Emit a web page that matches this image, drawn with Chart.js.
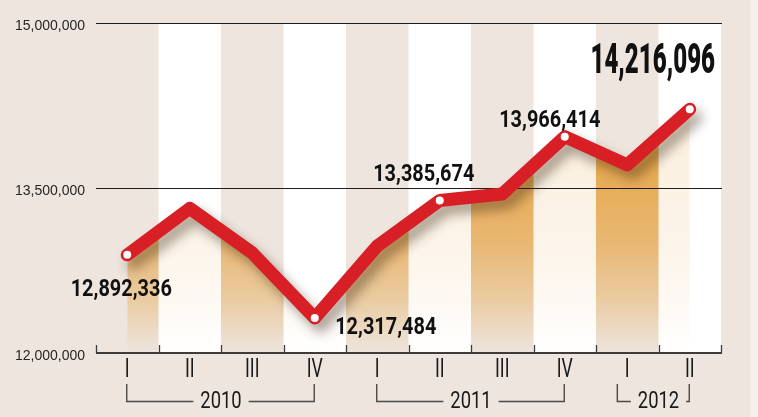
<!DOCTYPE html>
<html>
<head>
<meta charset="utf-8">
<script src="https://cdn.jsdelivr.net/npm/chart.js@4.4.1/dist/chart.umd.min.js"></script>
<style>
  html, body { margin: 0; padding: 0; background: #ede5de; }
  #wrap { width: 758px; height: 417px; }
</style>
</head>
<body>
<div id="wrap"><canvas id="c" width="758" height="417"></canvas></div>
<script>
// ---- data ----
const categories = ['I', 'II', 'III', 'IV', 'I', 'II', 'III', 'IV', 'I', 'II'];
const values = [12892336, 13315000, 12910000, 12317484, 12973000, 13385674, 13445000, 13966414, 13710000, 14216096];
const years = ['2010', '2011', '2012'];
const yearFirstIndex = [0, 4, 8];
const yearLastIndex = [3, 7, 9];
const labelledPoints = [0, 3, 5, 7, 9];
const yTickValues = [12000000, 13500000, 15000000];

// ---- styles ----
const BG = '#ede5de';
const RED = '#d81f26';
const INK = '#111111';
const ORANGE = [231, 166, 74];
const labelPlacement = { 0: [-6, 33], 3: [71, 7], 5: [-16, -28], 7: [-15, -18], 9: [-37, -51] };
const fmt = v => v.toLocaleString('en-US');

function drawText(ctx, text, cx, cy, size, weight, family, sx, color) {
  ctx.save();
  ctx.font = weight + ' ' + size + 'px ' + family;
  ctx.fillStyle = color;
  ctx.textAlign = 'center';
  ctx.textBaseline = 'alphabetic';
  ctx.translate(cx, cy + size * 0.355);
  ctx.scale(sx, 1);
  ctx.fillText(text, 0, 0);
  const w = ctx.measureText(text).width * sx;
  ctx.restore();
  return w;
}

let patternCache = null;
function fillPattern(chart) {
  const area = chart.chartArea;
  if (!area) return 'rgba(231,166,74,0.5)';
  const key = area.left + ',' + area.top + ',' + area.right + ',' + area.bottom;
  if (patternCache && patternCache.key === key) return patternCache.pattern;
  const x = chart.scales.x, y = chart.scales.y;
  const off = document.createElement('canvas');
  off.width = chart.width; off.height = chart.height;
  const g = off.getContext('2d');
  const half = (x.getPixelForValue(1) - x.getPixelForValue(0)) / 2;
  const top = area.top, bot = area.bottom, h = bot - top;
  const stops = [[13700000, 0.95], [13000000, 0.72], [12500000, 0.42], [12000000, 0.0]];
  for (let i = 0; i < categories.length; i++) {
    const k = (i % 2 === 0) ? 1 : 0.17;
    const grad = g.createLinearGradient(0, top, 0, bot);
    grad.addColorStop(0, 'rgba(' + ORANGE.join(',') + ',' + (0.95 * k) + ')');
    stops.forEach(([v, a]) => {
      const f = Math.min(1, Math.max(0, (y.getPixelForValue(v) - top) / h));
      grad.addColorStop(f, 'rgba(' + ORANGE.join(',') + ',' + (a * k) + ')');
    });
    g.fillStyle = grad;
    const cx = x.getPixelForValue(i);
    g.fillRect(cx - half, top, half * 2, h);
  }
  const pattern = chart.ctx.createPattern(off, 'no-repeat');
  patternCache = { key, pattern };
  return pattern;
}

const decor = {
  id: 'decor',
  beforeDraw(chart) {
    const { ctx, chartArea: a, scales: { x } } = chart;
    ctx.save();
    ctx.fillStyle = BG;
    ctx.fillRect(0, 0, chart.width, chart.height);
    ctx.fillStyle = '#f4efea';
    ctx.fillRect(750, 0, chart.width - 750, chart.height);
    const half = (x.getPixelForValue(1) - x.getPixelForValue(0)) / 2;
    ctx.fillStyle = '#ffffff';
    for (let i = 1; i < categories.length; i += 2) {
      const cx = x.getPixelForValue(i);
      ctx.fillRect(cx - half, a.top, half * 2, a.bottom - a.top);
    }
    ctx.restore();
  },
  beforeDatasetDraw(chart, args) {
    if (args.index === 1) {
      const ctx = chart.ctx;
      ctx.save();
      ctx.shadowColor = 'rgba(50,30,10,0.42)';
      ctx.shadowBlur = 12;
      ctx.shadowOffsetX = 6;
      ctx.shadowOffsetY = 8;
    }
  },
  afterDatasetDraw(chart, args) {
    const { ctx, chartArea: a, scales: { x, y } } = chart;
    if (args.index === 1) { ctx.restore(); return; }
    if (args.index !== 0) return;
    ctx.save();
    ctx.strokeStyle = '#1e1e1e';
    ctx.lineWidth = 1.2;
    yTickValues.slice(1).forEach(v => {
      const py = Math.round(y.getPixelForValue(v)) + 0.5;
      ctx.beginPath(); ctx.moveTo(a.left, py); ctx.lineTo(a.right + 1, py); ctx.stroke();
    });
    const half = (x.getPixelForValue(1) - x.getPixelForValue(0)) / 2;
    ctx.strokeStyle = '#3c3c3c';
    ctx.lineWidth = 2;
    ctx.beginPath(); ctx.moveTo(a.left, a.bottom); ctx.lineTo(a.right + 1, a.bottom); ctx.stroke();
    ctx.lineWidth = 1.3;
    for (let i = 0; i <= categories.length; i++) {
      const px = Math.round(x.getPixelForValue(0) - half + i * half * 2) + 0.5;
      ctx.beginPath(); ctx.moveTo(px, a.bottom); ctx.lineTo(px, a.bottom - 8); ctx.stroke();
    }
    ctx.restore();
  },
  afterDraw(chart) {
    const { ctx, chartArea: a, scales: { x } } = chart;
    categories.forEach((c, i) => {
      drawText(ctx, c, x.getPixelForValue(i), a.bottom + 14.5, 26, '400', 'Roboto', 0.68, '#1a1a1a');
    });
    ctx.save();
    ctx.strokeStyle = '#4a4a4a';
    ctx.lineWidth = 1.4;
    const by = a.bottom + 48.5, vt = a.bottom + 31;
    years.forEach((yr, k) => {
      const x0 = x.getPixelForValue(yearFirstIndex[k]);
      const x1 = x.getPixelForValue(yearLastIndex[k]);
      const mid = (x0 + x1) / 2;
      const w = drawText(ctx, yr, mid, by - 1.5, 23, '400', 'Roboto', 0.8, '#1a1a1a');
      const tl = mid - w / 2, tr = mid + w / 2;
      const left = Math.min(x0, tl - 20) - 0.5;
      const right = Math.max(x1, tr + 7) - 0.5;
      ctx.beginPath();
      ctx.moveTo(left, vt); ctx.lineTo(left, by); ctx.lineTo(tl - 7, by);
      ctx.moveTo(tr + 7, by); ctx.lineTo(right, by); ctx.lineTo(right, vt);
      ctx.stroke();
    });
    ctx.restore();
    const meta = chart.getDatasetMeta(1);
    labelledPoints.forEach(i => {
      const p = meta.data[i];
      const [dx, dy] = labelPlacement[i];
      if (i === values.length - 1) {
        drawText(ctx, fmt(values[i]), p.x + dx, p.y + dy, 43, '900', 'Roboto', 0.56, INK);
      } else {
        drawText(ctx, fmt(values[i]), p.x + dx, p.y + dy, 24, 'bold', 'Roboto', 0.83, INK);
      }
    });
  }
};

new Chart(document.getElementById('c'), {
  type: 'line',
  data: {
    labels: categories,
    datasets: [
      {
        data: values, order: 3, fill: 'start',
        backgroundColor: ctx => fillPattern(ctx.chart),
        borderColor: 'rgba(0,0,0,0)', borderWidth: 0, pointRadius: 0, tension: 0
      },
      {
        data: values, order: 2, fill: false,
        borderColor: RED, borderWidth: 13, borderJoinStyle: 'round', borderCapStyle: 'round',
        pointRadius: 0, tension: 0
      },
      {
        data: values, order: 1, showLine: false, fill: false,
        pointRadius: ctx => labelledPoints.includes(ctx.dataIndex) ? 4 : 0,
        pointBackgroundColor: '#ffffff', pointBorderWidth: 0, pointHoverRadius: 0
      }
    ]
  },
  options: {
    responsive: false,
    animation: false,
    devicePixelRatio: 1,
    layout: { padding: { left: 0, right: 37, top: 23, bottom: 0 } },
    plugins: { legend: { display: false }, tooltip: { enabled: false } },
    events: [],
    scales: {
      x: {
        type: 'category', offset: true,
        grid: { display: false }, border: { display: false },
        ticks: { display: false },
        afterFit: s => { s.height = 64; }
      },
      y: {
        min: 12000000, max: 15000000,
        afterBuildTicks: s => { s.ticks = yTickValues.map(v => ({ value: v })); },
        grid: { display: false, drawTicks: false }, border: { display: false },
        ticks: {
          padding: 11, labelOffset: 3, color: '#262626',
          font: { family: 'Liberation Sans', size: 14 },
          callback: v => fmt(v)
        },
        afterFit: s => { s.width = 96; }
      }
    }
  },
  plugins: [decor]
});
</script>
</body>
</html>
